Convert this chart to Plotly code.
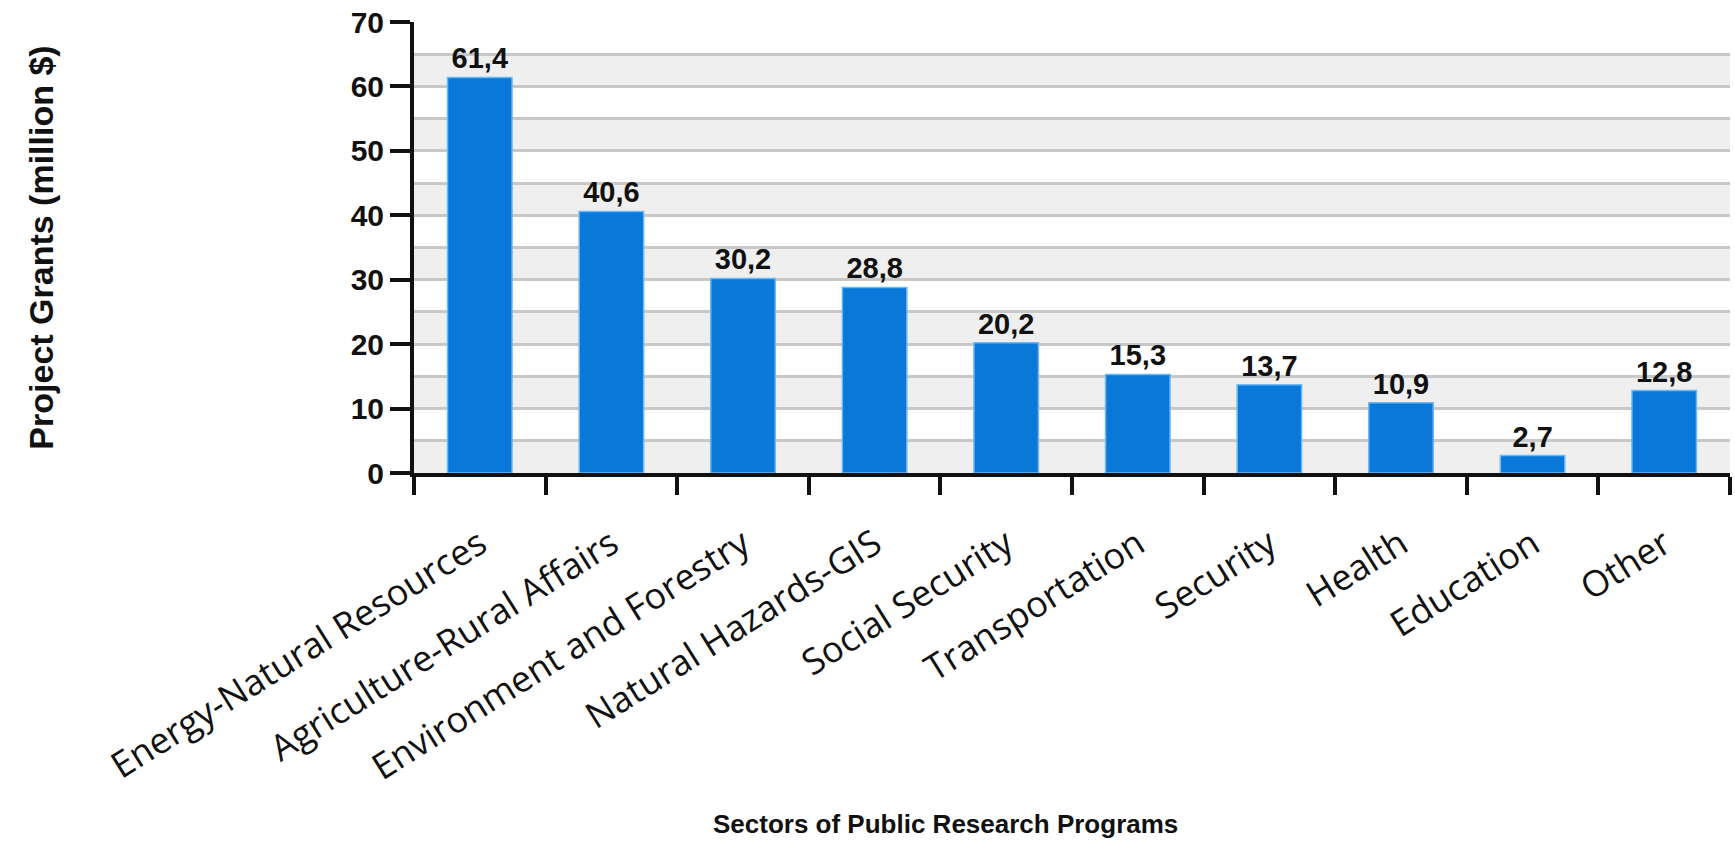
import plotly.graph_objects as go

categories = [
    "Energy-Natural Resources",
    "Agriculture-Rural Affairs",
    "Environment and Forestry",
    "Natural Hazards-GIS",
    "Social Security",
    "Transportation",
    "Security",
    "Health",
    "Education",
    "Other",
]
grants = [61.4, 40.6, 30.2, 28.8, 20.2, 15.3, 13.7, 10.9, 2.7, 12.8]
value_labels = ["61,4", "40,6", "30,2", "28,8", "20,2", "15,3", "13,7", "10,9", "2,7", "12,8"]
y_ticks = [0, 10, 20, 30, 40, 50, 60, 70]

BAR = "#0a78d8"
FONT = "Liberation Sans, Arial, sans-serif"

fig = go.Figure()
fig.add_trace(go.Bar(
    x=categories,
    y=grants,
    text=value_labels,
    textposition="outside",
    textfont=dict(family=FONT, size=29, color="#111111", weight="bold"),
    marker=dict(color=BAR, line=dict(color="#6ab8f5", width=1.5)),
    cliponaxis=False,
    hoverinfo="x+y",
))

# alternating grey bands
shapes = []
for lo in range(0, 70, 10):
    shapes.append(dict(type="rect", xref="paper", yref="y", x0=0, x1=1, y0=lo, y1=lo + 5,
                       fillcolor="#efefef", line=dict(width=0), layer="below"))

fig.update_layout(
    width=1735, height=848,
    margin=dict(l=414, r=5, t=22, b=375),
    paper_bgcolor="white",
    plot_bgcolor="white",
    bargap=0.51,
    showlegend=False,
    shapes=shapes,
    font=dict(family=FONT, color="#111111"),
    xaxis=dict(
        type="category",
        showline=True, linewidth=4, linecolor="#111111",
        ticks="outside", ticklen=18, tickwidth=4, tickcolor="#111111",
        tickson="boundaries",
        tickangle=-32,
        tickfont=dict(family="Open Sans, DejaVu Sans, sans-serif", size=36, color="#111111"),
        ticklabelstandoff=32,
        showgrid=False,
    ),
    yaxis=dict(
        range=[0, 70],
        tickvals=y_ticks,
        showline=True, linewidth=4, linecolor="#111111",
        ticks="outside", ticklen=20, tickwidth=4, tickcolor="#111111",
        tickfont=dict(family=FONT, size=30, color="#111111", weight="bold"),
        showgrid=True, gridcolor="#c8c8c8", gridwidth=3,
        minor=dict(dtick=5, showgrid=True, gridcolor="#c8c8c8", gridwidth=3, ticks=""),
        zeroline=False,
        title=dict(text="Project Grants (million $)",
                   font=dict(family=FONT, size=34, color="#111111", weight="bold"),
                   standoff=288),
    ),
    annotations=[dict(
        text="Sectors of Public Research Programs",
        xref="paper", yref="paper", x=0.404, y=-0.778,
        xanchor="center", yanchor="middle", showarrow=False,
        font=dict(family=FONT, size=26, color="#111111", weight="bold"),
    )],
)

fig.write_html("out.html")
